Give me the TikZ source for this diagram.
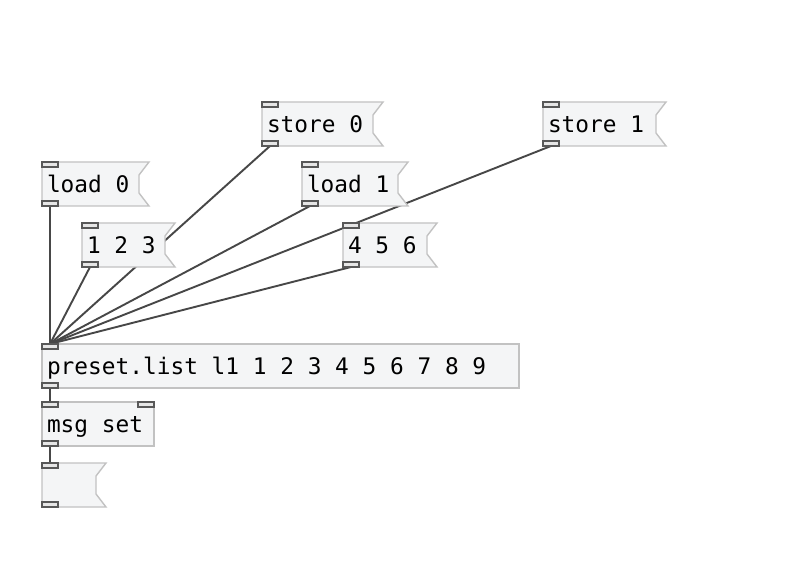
\documentclass[tikz,border=0pt]{standalone}
\usepackage{fontspec}
\newfontfamily\pdfont{DejaVu Sans Mono}
\newcommand{\pdtext}{\pdfont\fontsize{22.8pt}{27pt}\selectfont}
% fixed-width space of the mono font
\newcommand{\pdsp}{\char"00A0\relax}

\definecolor{boxfill}{HTML}{F4F5F6}
\definecolor{boxline}{HTML}{C2C2C2}
\definecolor{portline}{HTML}{585858}
\definecolor{portfill}{HTML}{E6E6E6}
\definecolor{wirecol}{HTML}{474747}

\pgfdeclarelayer{wires}
\pgfdeclarelayer{boxes}
\pgfsetlayers{wires,boxes,main}

\tikzstyle{obj}=[draw=boxline,fill=boxfill,line width=1.4pt,anchor=north west,outer sep=0pt,inner xsep=5pt,inner ysep=0pt,minimum height=44pt,text height=17pt,text depth=0pt,align=left,font=\pdtext]
\tikzstyle{msg}=[anchor=north west,outer sep=0pt,inner xsep=5pt,inner ysep=0pt,minimum height=44pt,text height=17pt,text depth=0pt,align=left,font=\pdtext]
\tikzstyle{flag}=[draw=boxline,fill=boxfill,line width=1.4pt,line join=miter]
\tikzstyle{port}=[draw=portline,fill=portfill,line width=1.3pt,minimum width=16pt,minimum height=5pt,inner sep=0pt,outer sep=0pt]
\tikzstyle{wire}=[draw=wirecol,line width=1.9pt]

% message box outline with the notch on the right
\newcommand{\msgflag}[1]{%
  \draw[flag] (#1.north west) -- (#1.north east)
  -- ([xshift=-10pt,yshift=-13pt]#1.north east)
  -- ([xshift=-10pt,yshift=13pt]#1.south east)
  -- (#1.south east) -- (#1.south west) -- cycle;}

\begin{document}
\begin{tikzpicture}[x=1pt,y=-1pt]

   \useasboundingbox (0,0) rectangle (796,567);

% message boxes
   \node[msg,text width=111pt] (store0) at (262,102) {store\pdsp 0};
   \node[msg,text width=113pt] (store1) at (543,102) {store\pdsp 1};
   \node[msg,text width=97pt] (load0) at (42,162) {load\pdsp 0};
   \node[msg,text width=96pt] (load1) at (302,162) {load\pdsp 1};
   \node[msg,text width=83pt] (list123) at (82,223) {1\pdsp 2\pdsp 3};
   \node[msg,text width=84pt] (list456) at (343,223) {4\pdsp 5\pdsp 6};
   \node[msg,text width=54pt] (empty) at (42,463) {};

% objects
   \node[obj,text width=467pt] (preset) at (42,344)
      {preset.list\pdsp l1\pdsp 1\pdsp 2\pdsp 3\pdsp 4\pdsp 5\pdsp 6\pdsp 7\pdsp 8\pdsp 9};
   \node[obj,text width=102pt] (msgset) at (42,402) {msg\pdsp set};

   \begin{pgfonlayer}{boxes}
   \msgflag{store0}
   \msgflag{store1}
   \msgflag{load0}
   \msgflag{load1}
   \msgflag{list123}
   \msgflag{list456}
   \msgflag{empty}
   \end{pgfonlayer}

% inlets and outlets
   \node[port,anchor=north west] (store0in) at (store0.north west) {};
   \node[port,anchor=south west] (store0out) at (store0.south west) {};
   \node[port,anchor=north west] (store1in) at (store1.north west) {};
   \node[port,anchor=south west] (store1out) at (store1.south west) {};
   \node[port,anchor=north west] (load0in) at (load0.north west) {};
   \node[port,anchor=south west] (load0out) at (load0.south west) {};
   \node[port,anchor=north west] (load1in) at (load1.north west) {};
   \node[port,anchor=south west] (load1out) at (load1.south west) {};
   \node[port,anchor=north west] (list123in) at (list123.north west) {};
   \node[port,anchor=south west] (list123out) at (list123.south west) {};
   \node[port,anchor=north west] (list456in) at (list456.north west) {};
   \node[port,anchor=south west] (list456out) at (list456.south west) {};
   \node[port,anchor=north west] (presetin) at (preset.north west) {};
   \node[port,anchor=south west] (presetout) at (preset.south west) {};
   \node[port,anchor=north west] (msgsetin) at (msgset.north west) {};
   \node[port,anchor=north east] (msgsetright) at (msgset.north east) {};
   \node[port,anchor=south west] (msgsetout) at (msgset.south west) {};
   \node[port,anchor=north west] (emptyin) at (empty.north west) {};
   \node[port,anchor=south west] (emptyout) at (empty.south west) {};

% connections
   \begin{pgfonlayer}{wires}
   \fill[white] (0,0) rectangle (796,567);
   \draw[wire] (load0out.south) -- (presetin.north);
   \draw[wire] (list123out.south) -- (presetin.north);
   \draw[wire] (store0out.south) -- (presetin.north);
   \draw[wire] (load1out.south) -- (presetin.north);
   \draw[wire] (list456out.south) -- (presetin.north);
   \draw[wire] (store1out.south) -- (presetin.north);
   \draw[wire] (presetout.south) -- (msgsetin.north);
   \draw[wire] (msgsetout.south) -- (emptyin.north);
   \end{pgfonlayer}

\end{tikzpicture}
\end{document}
